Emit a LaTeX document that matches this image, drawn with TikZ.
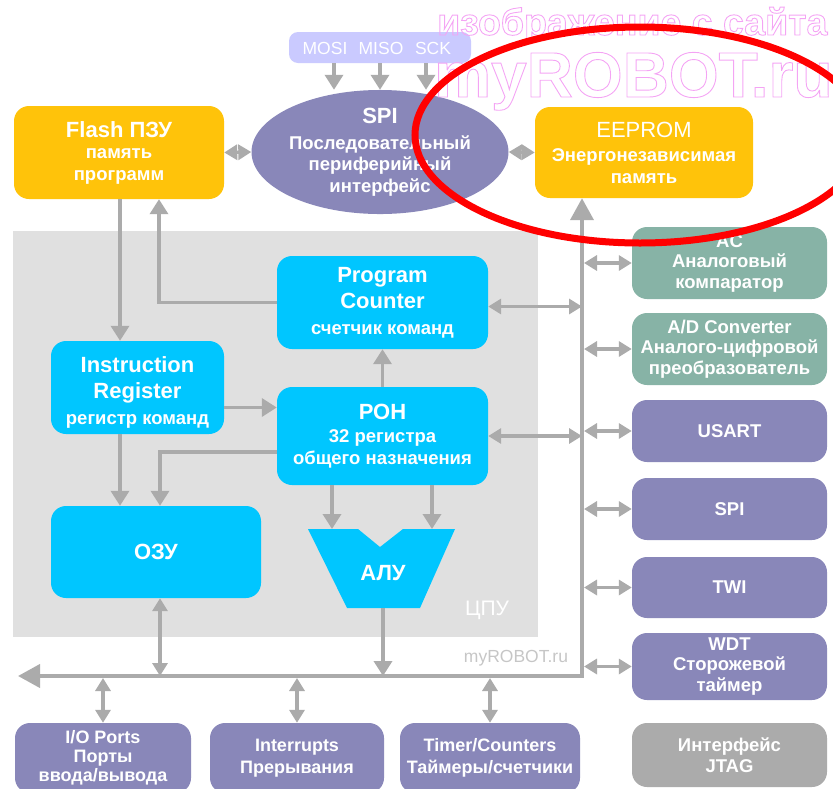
\documentclass[tikz,border=0pt]{standalone}
\usepackage{fontspec}
\setmainfont{Liberation Sans}
\usetikzlibrary{arrows.meta,calc,shapes.geometric}

\definecolor{memY}{HTML}{FFC30A}
\definecolor{cpuC}{HTML}{00C6FF}
\definecolor{perP}{HTML}{8987B9}
\definecolor{perT}{HTML}{87B3A6}
\definecolor{cpuG}{HTML}{E0E0E0}
\definecolor{lineG}{HTML}{ABABAB}
\definecolor{jtagG}{HTML}{ABABAB}
\definecolor{sigL}{HTML}{CACAFF}
\definecolor{wmPink}{HTML}{F4A4F4}
\definecolor{wmGray}{HTML}{C6C6C6}

\newcommand{\bigtxt}{\fontsize{22}{27}\selectfont}
\newcommand{\subtxt}{\fontsize{18.5}{21.5}\selectfont}
\newcommand{\pertxt}{\fontsize{18.5}{20.5}\selectfont}
% hollow (stroked) letters through the PDF text rendering mode
\newcommand{\hollow}[1]{\special{pdf:literal direct q 1 Tr 0.9 w 0.957 0.643 0.957 RG}#1\special{pdf:literal direct Q}}

\begin{document}
\begin{tikzpicture}[x=1pt,y=-1pt,
  blk/.style={rounded corners=15pt, inner sep=0pt, text=white, align=center,
              font=\bfseries\subtxt},
  cpublk/.style={blk, fill=cpuC},
  perblk/.style={blk, minimum width=195, font=\bfseries\pertxt},
  botblk/.style={blk, fill=perP, minimum width=176, minimum height=70,
                 font=\bfseries\fontsize{18}{19}\selectfont},
  conn/.style={draw=lineG, line width=3.5pt},
  arr/.style={conn, -{Triangle[length=15pt,width=18pt]}},
  dbl/.style={conn, {Triangle[length=13pt,width=15pt]}-{Triangle[length=13pt,width=15pt]}},
  busline/.style={draw=lineG, line width=4pt, line join=miter,
                  {Triangle[length=22pt,width=23pt]}-{Triangle[length=22pt,width=23pt]}},
  wm/.style={inner sep=0pt, anchor=base west, text=wmPink}
]
\useasboundingbox (0,0) rectangle (833,788);
\clip (0,0) rectangle (833,788);

% processor core background
\node[fill=cpuG, minimum width=525, minimum height=406, inner sep=0pt] (cpu) at (275.5,434) {};
\node[text=white, font=\fontsize{21}{21}\selectfont] (cpulbl) at (487,610) {ЦПУ};
\node[text=wmGray, font=\fontsize{17.5}{17.5}\selectfont] (site) at (516,658) {myROBOT.ru};

% serial lines and SPI unit
\node[blk, fill=sigL, rounded corners=9pt, minimum width=182, minimum height=31] (sig) at (380,47.5) {};
\node[text=white, font=\fontsize{17.5}{17.5}\selectfont] (mosi) at (325,48) {MOSI};
\node[text=white, font=\fontsize{17.5}{17.5}\selectfont] (miso) at (381,48) {MISO};
\node[text=white, font=\fontsize{17.5}{17.5}\selectfont] (sck) at (433,48) {SCK};

\node[ellipse, fill=perP, minimum width=214, minimum height=118, inner sep=0pt,
      text=white, align=center, font=\bfseries\subtxt] (spi) at (380,152)
      {\bigtxt SPI\\[4pt]\subtxt Последовательный\\\subtxt периферийный\\\subtxt интерфейс};

% memories
\node[blk, fill=memY, minimum width=210, minimum height=93] (flash) at (119,152.5)
      {\bigtxt Flash ПЗУ\\\subtxt память\\\subtxt программ};
\node[blk, fill=memY, minimum width=218, minimum height=91] (eeprom) at (644,152.5)
      {\mdseries\bigtxt EEPROM\\[3pt]\bfseries\subtxt Энергонезависимая\\\bfseries\subtxt память};

% core blocks
\node[cpublk, minimum width=211, minimum height=93] (pc) at (382.5,302.5)
      {\bigtxt Program\\[5pt]\bigtxt Counter\\[4pt]\subtxt счетчик команд};
\node[cpublk, minimum width=173, minimum height=93] (ir) at (137.5,387.5)
      {\rule{0pt}{26pt}\bigtxt Instruction\\[4pt]\bigtxt Register\\[5pt]\subtxt регистр команд};
\node[cpublk, minimum width=211, minimum height=98] (ron) at (382.5,436)
      {\bigtxt РОН\\[2pt]\subtxt 32 регистра\\\subtxt общего назначения};
\node[cpublk, minimum width=210, minimum height=92] (ozu) at (156,552)
      {\bigtxt ОЗУ};
\fill[cpuC] (308,529) -- (358,529) -- (380,547) -- (403,529) -- (455,529)
            -- (420,608) -- (347,608) -- cycle;
\node[text=white, font=\bfseries\bigtxt] (alu) at (383,573) {АЛУ};

% peripherals on the right
\node[perblk, fill=perT, minimum height=72] (ac) at (729.5,263) {AC\\Аналоговый\\компаратор};
\node[perblk, fill=perT, minimum height=72] (adc) at (729.5,349) {A/D Converter\\Аналого-цифровой\\преобразователь};
\node[perblk, fill=perP, minimum height=62] (usart) at (729.5,431) {USART};
\node[perblk, fill=perP, minimum height=62] (spitwo) at (729.5,509) {SPI};
\node[perblk, fill=perP, minimum height=61] (twi) at (729.5,587.5) {TWI};
\node[perblk, fill=perP, minimum height=67] (wdt) at (729.5,666.5) {WDT\\Сторожевой\\таймер};
\node[perblk, fill=jtagG, minimum height=64] (jtag) at (729.5,755) {Интерфейс\\JTAG};

% peripherals at the bottom
\node[botblk] (io) at (103,758) {I/O Ports\\Порты\\ввода/вывода};
\node[botblk, minimum width=174] (irq) at (297,758) {Interrupts\\[3pt]Прерывания};
\node[botblk, minimum width=180] (tmr) at (490,758) {Timer/Counters\\[3pt]Таймеры/счетчики};

% data bus
\coordinate (bus) at (582,676);
\coordinate (busW) at (18,676);
\path[busline] (bus |- eeprom.south) -- (bus) -- (busW);

% lanes for the core wiring
\coordinate (laneA) at (120,0);
\coordinate (laneB) at (159,0);
\coordinate (laneC) at (160,0);
\coordinate (irout) at ($(ir.east)+(0,20)$);
\coordinate (ronL) at ($(ron.west)+(0,16)$);
\coordinate (aluA) at (332,529);
\coordinate (aluB) at (432,529);
\coordinate (aluO) at (383,608);
\coordinate (pcR) at ($(pc.east)+(0,4)$);

% serial lines into SPI
\path[arr] ($(sig.south)+(-46,0)$) -- ($(spi.north)+(-46,0)$);
\path[arr] (sig.south) -- (spi.north);
\path[arr] ($(sig.south)+(46,0)$) -- ($(spi.north)+(46,0)$);
\path[dbl] (flash.east) -- (spi.west);
\path[dbl] (spi.east) -- (eeprom.west);

% core wiring
\path[arr] (flash.south -| laneA) -- (ir.north -| laneA);
\path[arr] (pc.west) -| (flash.south -| laneB);
\path[arr] (irout) -- (irout -| ron.west);
\path[arr] (ron.north) -- (pc.south);
\path[arr] (ir.south -| laneA) -- (ozu.north -| laneA);
\path[arr] (ronL) -| (ozu.north -| laneC);
\path[dbl] (ozu.south -| laneC) -- (laneC |- bus);
\path[arr] (ron.south -| aluA) -- (aluA);
\path[arr] (ron.south -| aluB) -- (aluB);
\path[arr] (aluO) -- (aluO |- bus);
\path[dbl] (pcR) -- (pcR -| bus);
\path[dbl] (ron.east) -- (ron.east -| bus);

% bus to peripherals
\foreach \p in {ac,adc,usart,spitwo,twi,wdt}
  \path[dbl] ($(\p.west -| bus)+(2,0)$) -- (\p.west);
\foreach \p in {io,irq,tmr}
  \path[dbl] ($(\p.north |- bus)+(0,2)$) -- (\p.north);

% site watermark (hollow letters) and highlight
\node[wm, font=\bfseries\fontsize{37.5}{37.5}\selectfont] (wmtop) at (437,35)
  {\hollow{изображение с сайта}};
\node[wm, font=\bfseries\fontsize{64}{64}\selectfont] (wmbig) at (434,97)
  {\hollow{myROBOT.ru}};
\draw[red, line width=7pt] (640,135) ellipse [x radius=225, y radius=108];
\end{tikzpicture}
\end{document}
